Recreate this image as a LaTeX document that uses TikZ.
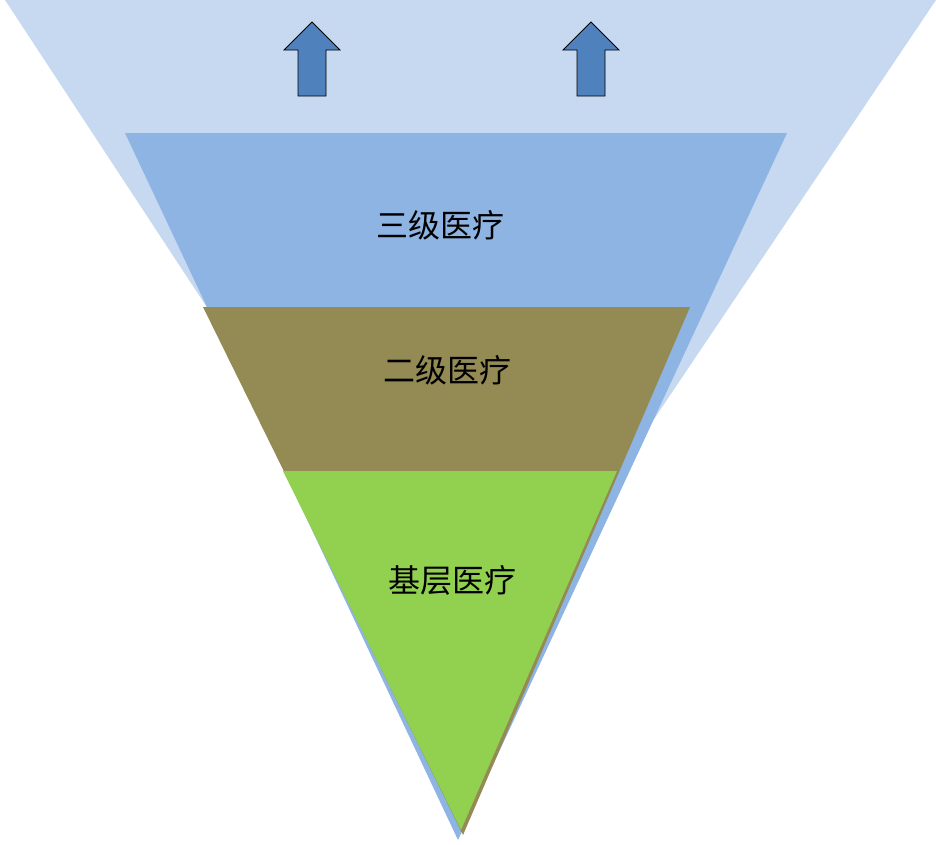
\documentclass[tikz,border=0pt]{standalone}
\usepackage{fontspec}
\newfontfamily\cjk{Noto Sans CJK SC}
\usetikzlibrary{shapes.arrows, positioning}
\definecolor{lightblue}{HTML}{C6D9F1}
\definecolor{midblue}{HTML}{8EB4E3}
\definecolor{olive}{HTML}{948A54}
\definecolor{leaf}{HTML}{92D050}
\definecolor{arrowblue}{HTML}{4F81BD}

\begin{document}
\begin{tikzpicture}[x=1pt, y=-1pt,
        layer/.style={draw=none},
        tag/.style={font=\cjk\fontsize{32}{38}\selectfont},
        uparrow/.style={draw=black, fill=arrowblue, line width=0.8pt}
    ]
    \useasboundingbox (0,0) rectangle (936,844);

    % Outer funnel
    \fill[lightblue] (5,0) -- (936,0) -- (465,700) -- cycle;
    % Levels
    \fill[midblue] (125,133) -- (787,133) -- (458,840) -- cycle;
    \fill[olive] (203,307) -- (690,307) -- (463,835) -- cycle;
    \fill[leaf] (283,471) -- (617,471) -- (461,830) -- cycle;

    % Arrows
    \foreach \ax in {312,591} {
        \draw[uparrow] (\ax-14,96) -- (\ax+14,96) -- (\ax+14,50) -- (\ax+28,50)
            -- (\ax,22) -- (\ax-28,50) -- (\ax-14,50) -- cycle;
    }

    % Labels
    \node[tag] (tertiary) at (440,225) {三级医疗};
    \node[tag] (secondary) at (447,370) {二级医疗};
    \node[tag] (primary) at (452,580) {基层医疗};
\end{tikzpicture}
\end{document}
